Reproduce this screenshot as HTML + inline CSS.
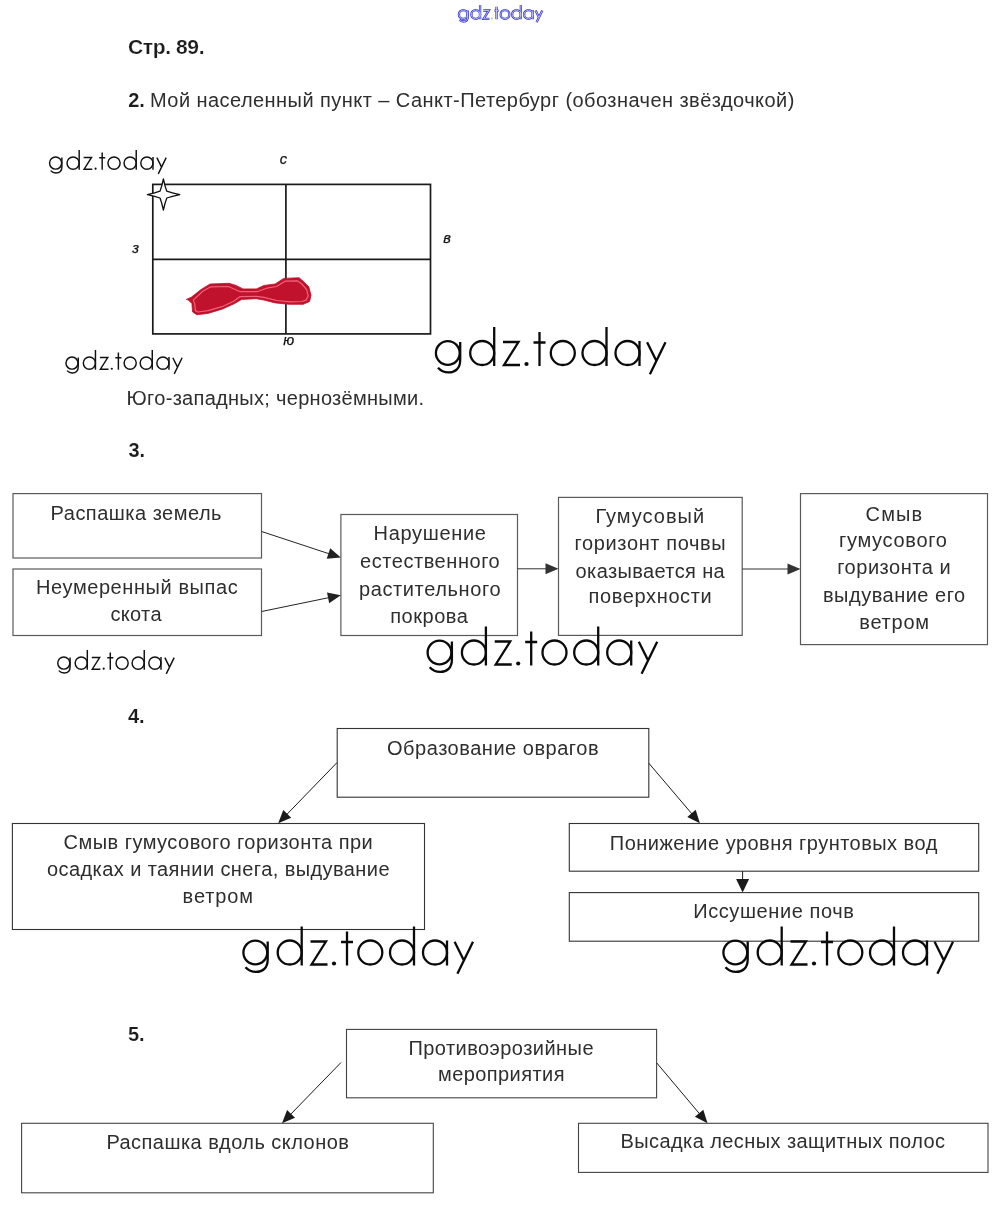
<!DOCTYPE html>
<html><head><meta charset="utf-8"><title>Стр. 89</title>
<style>html,body{margin:0;padding:0;background:#fff;width:1000px;height:1208px;overflow:hidden;position:relative}</style>
</head><body>
<svg width="1000" height="1208" viewBox="0 0 1000 1208" style="position:absolute;left:0;top:0;will-change:transform" font-family='"Liberation Sans", sans-serif'>
<defs><g id="wm" fill="none" stroke-linecap="butt"><circle cx="12.8" cy="-13" r="11.9"/><path d="M25.2,-24 V-6 C25.2,2.5 20.3,6.4 13.5,6.4 C9.5,6.4 5.5,4.6 3,1.8"/><circle cx="47.2" cy="-13" r="12"/><path d="M59.2,-39 V0"/><path d="M68,-24 H83.5 L69,-1 H85"/><circle cx="91.5" cy="-2" r="2.1" fill="currentColor" stroke="none"/><path d="M104.5,-34 V0 M98.5,-23.5 H110.5"/><circle cx="127.8" cy="-13" r="12"/><circle cx="159.5" cy="-13" r="12"/><path d="M171.5,-39 V0"/><circle cx="192.5" cy="-13" r="12"/><path d="M204.5,-25 V0"/><path d="M212.1,-23.7 L221.2,-5.6 M230.5,-23.7 L214.9,8.3"/></g></defs>
<use href="#wm" transform="translate(458.6,19.2) scale(0.363)" stroke="#3434d0" color="#3434d0" stroke-width="6.34"/>
<use href="#wm" transform="translate(458.6,19.2) scale(0.363)" stroke="#dcdcfa" color="#dcdcfa" stroke-width="2.20"/>
<text x="128.0" y="54.0" font-size="21" font-weight="bold" fill="#1c1c1c" stroke="#fff" stroke-width="0.2" textLength="76.5" lengthAdjust="spacing">Стр. 89.</text>
<text x="128.2" y="107.2" font-size="20" font-weight="bold" fill="#1c1c1c" stroke="#fff" stroke-width="0.12">2.</text>
<text x="150.0" y="107.2" font-size="20" fill="#2e2e2e" textLength="644.3" lengthAdjust="spacing">Мой населенный пункт – Санкт-Петербург (обозначен звёздочкой)</text>
<use href="#wm" transform="translate(49.1,169.7) scale(0.508)" stroke="#111" color="#111" stroke-width="2.85"/>
<g stroke="#1a1a1a" stroke-width="1.7" fill="none"><rect x="152.8" y="184.4" width="277.7" height="149.5"/><line x1="152.8" y1="259.4" x2="430.5" y2="259.4"/><line x1="285.9" y1="184.4" x2="285.9" y2="333.9"/></g>
<polygon points="186.3,299.4 191.2,297.3 201.0,289.6 210.1,284.0 229.0,283.3 236.0,285.4 243.0,288.9 256.3,288.9 264.0,285.4 275.2,284.0 283.6,278.4 299.0,277.7 303.2,281.2 308.8,286.8 311.0,295.2 309.6,301.5 303.2,304.3 289.2,304.3 275.2,302.9 264.0,300.1 256.3,298.7 241.6,299.4 234.6,303.6 222.0,309.2 208.0,313.4 196.8,314.8 192.6,312.0 191.9,303.6 188.4,300.1" fill="#c0122c" stroke="#c0122c" stroke-width="0.8" stroke-linejoin="round"/>
<polygon points="193.3,300.1 203.1,291.0 210.8,286.8 228.3,286.5 240.2,291.7 257.0,291.7 266.8,288.2 276.6,286.5 285.0,281.2 297.6,280.9 301.8,284.0 306.7,289.6 308.2,295.9 306.0,300.1 301.8,301.5 290.6,301.9 276.6,300.5 264.0,297.3 256.3,296.3 240.2,296.6 233.2,301.5 222.0,306.7 208.0,310.6 198.2,312.0 195.4,310.6 194.7,303.6" fill="none" stroke="#f0627a" stroke-width="1.2" stroke-linejoin="round"/>
<path d="M163.4,179 Q165.07,186.85 166.80,191.20 Q171.46,192.93 179.80,194.60 Q171.46,196.27 166.80,198.00 Q165.07,202.27 163.40,210.00 Q161.73,202.27 160.00,198.00 Q155.49,196.27 147.40,194.60 Q155.49,192.93 160.00,191.20 Q161.73,186.85 163.40,179.00 Z" fill="#fff" stroke="#111" stroke-width="1.3" stroke-linejoin="round"/>
<text x="279.7" y="163.9" font-size="14.6" font-style="italic" fill="#111" stroke="#111" stroke-width="0.25">с</text>
<text x="132.3" y="253.2" font-size="14.6" font-style="italic" fill="#111" stroke="#111" stroke-width="0.25">з</text>
<text x="443.3" y="243.2" font-size="14.6" font-style="italic" fill="#111" stroke="#111" stroke-width="0.25">в</text>
<text x="283.3" y="345.0" font-size="14.6" font-style="italic" fill="#111" stroke="#111" stroke-width="0.25">ю</text>
<use href="#wm" transform="translate(65.5,369.7) scale(0.506)" stroke="#111" color="#111" stroke-width="2.87"/>
<use href="#wm" transform="translate(435.0,366.0) scale(1.0)" stroke="#0a0a0a" color="#0a0a0a" stroke-width="2.30"/>
<text x="126.6" y="404.8" font-size="20" fill="#2e2e2e" textLength="297.5" lengthAdjust="spacing">Юго-западных; чернозёмными.</text>
<text x="128.4" y="456.8" font-size="20" font-weight="bold" fill="#1c1c1c" stroke="#fff" stroke-width="0.12">3.</text>
<rect x="13.0" y="493.6" width="248.5" height="64.4" fill="none" stroke="#5a5a5a" stroke-width="1.2"/>
<text x="50.6" y="520.4" font-size="20" fill="#2e2e2e" textLength="170.9" lengthAdjust="spacing">Распашка земель</text>
<rect x="13.0" y="569.0" width="248.5" height="66.5" fill="none" stroke="#5a5a5a" stroke-width="1.2"/>
<text x="36.0" y="594.0" font-size="20" fill="#2e2e2e" textLength="201.7" lengthAdjust="spacing">Неумеренный выпас</text>
<text x="110.4" y="621.0" font-size="20" fill="#2e2e2e" textLength="51.1" lengthAdjust="spacing">скота</text>
<rect x="340.9" y="514.5" width="176.6" height="121.0" fill="none" stroke="#5a5a5a" stroke-width="1.2"/>
<text x="373.6" y="539.8" font-size="20" fill="#2e2e2e" textLength="112.3" lengthAdjust="spacing">Нарушение</text>
<text x="360.0" y="568.0" font-size="20" fill="#2e2e2e" textLength="139.7" lengthAdjust="spacing">естественного</text>
<text x="359.0" y="595.5" font-size="20" fill="#2e2e2e" textLength="141.5" lengthAdjust="spacing">растительного</text>
<text x="390.2" y="622.5" font-size="20" fill="#2e2e2e" textLength="77.7" lengthAdjust="spacing">покрова</text>
<rect x="558.5" y="497.4" width="183.7" height="138.0" fill="none" stroke="#5a5a5a" stroke-width="1.2"/>
<text x="595.6" y="523.4" font-size="20" fill="#2e2e2e" textLength="108.5" lengthAdjust="spacing">Гумусовый</text>
<text x="574.6" y="550.0" font-size="20" fill="#2e2e2e" textLength="151.1" lengthAdjust="spacing">горизонт почвы</text>
<text x="575.6" y="578.0" font-size="20" fill="#2e2e2e" textLength="149.1" lengthAdjust="spacing">оказывается на</text>
<text x="588.6" y="603.2" font-size="20" fill="#2e2e2e" textLength="123.1" lengthAdjust="spacing">поверхности</text>
<rect x="800.5" y="493.6" width="187.0" height="151.0" fill="none" stroke="#5a5a5a" stroke-width="1.2"/>
<text x="865.6" y="520.7" font-size="20" fill="#2e2e2e" textLength="56.5" lengthAdjust="spacing">Смыв</text>
<text x="839.0" y="547.1" font-size="20" fill="#2e2e2e" textLength="107.9" lengthAdjust="spacing">гумусового</text>
<text x="837.2" y="574.2" font-size="20" fill="#2e2e2e" textLength="113.5" lengthAdjust="spacing">горизонта и</text>
<text x="823.0" y="602.1" font-size="20" fill="#2e2e2e" textLength="142.1" lengthAdjust="spacing">выдувание его</text>
<text x="859.2" y="628.5" font-size="20" fill="#2e2e2e" textLength="69.9" lengthAdjust="spacing">ветром</text>
<line x1="261.6" y1="531.5" x2="330.4" y2="554.2" stroke="#222" stroke-width="1.0"/>
<polygon points="340.8,557.6 326.7,558.8 330.2,548.3" fill="#222"/>
<line x1="261.6" y1="611.5" x2="330.0" y2="597.4" stroke="#222" stroke-width="1.0"/>
<polygon points="340.8,595.2 329.2,603.2 327.0,592.4" fill="#222"/>
<line x1="517.5" y1="568.8" x2="547.5" y2="568.8" stroke="#333" stroke-width="1.0"/>
<polygon points="558.5,568.8 545.5,574.3 545.5,563.3" fill="#333"/>
<line x1="742.2" y1="569.0" x2="789.5" y2="569.0" stroke="#333" stroke-width="1.0"/>
<polygon points="800.5,569.0 787.5,574.5 787.5,563.5" fill="#333"/>
<use href="#wm" transform="translate(57.3,669.7) scale(0.507)" stroke="#111" color="#111" stroke-width="2.86"/>
<use href="#wm" transform="translate(426.7,665.5) scale(1.0)" stroke="#0a0a0a" color="#0a0a0a" stroke-width="2.30"/>
<text x="128.0" y="722.5" font-size="20" font-weight="bold" fill="#1c1c1c" stroke="#fff" stroke-width="0.12">4.</text>
<rect x="337.2" y="728.5" width="311.6" height="68.7" fill="none" stroke="#333" stroke-width="1.1"/>
<text x="387.0" y="754.5" font-size="20" fill="#2e2e2e" textLength="211.5" lengthAdjust="spacing">Образование оврагов</text>
<rect x="12.4" y="823.5" width="412.1" height="106.0" fill="none" stroke="#333" stroke-width="1.1"/>
<text x="63.6" y="849.2" font-size="20" fill="#2e2e2e" textLength="309.1" lengthAdjust="spacing">Смыв гумусового горизонта при</text>
<text x="47.0" y="876.0" font-size="20" fill="#2e2e2e" textLength="342.5" lengthAdjust="spacing">осадках и таянии снега, выдувание</text>
<text x="182.6" y="903.0" font-size="20" fill="#2e2e2e" textLength="70.5" lengthAdjust="spacing">ветром</text>
<rect x="569.3" y="823.5" width="409.4" height="47.7" fill="none" stroke="#333" stroke-width="1.1"/>
<text x="609.8" y="849.6" font-size="20" fill="#2e2e2e" textLength="327.5" lengthAdjust="spacing">Понижение уровня грунтовых вод</text>
<rect x="569.3" y="892.6" width="409.4" height="48.6" fill="none" stroke="#333" stroke-width="1.1"/>
<text x="693.2" y="917.8" font-size="20" fill="#2e2e2e" textLength="160.7" lengthAdjust="spacing">Иссушение почв</text>
<line x1="337.0" y1="762.6" x2="285.9" y2="815.4" stroke="#1a1a1a" stroke-width="1.0"/>
<polygon points="278.2,823.3 283.3,810.1 291.2,817.8" fill="#1a1a1a"/>
<line x1="648.8" y1="763.2" x2="692.8" y2="814.9" stroke="#1a1a1a" stroke-width="1.0"/>
<polygon points="699.9,823.3 687.3,817.0 695.7,809.8" fill="#1a1a1a"/>
<line x1="742.6" y1="871.2" x2="742.6" y2="880.9" stroke="#1a1a1a" stroke-width="1.0"/>
<polygon points="742.6,892.4 736.1,878.9 749.1,878.9" fill="#1a1a1a"/>
<use href="#wm" transform="translate(242.5,965.5) scale(1.0)" stroke="#0a0a0a" color="#0a0a0a" stroke-width="2.30"/>
<use href="#wm" transform="translate(722.5,965.5) scale(1.0)" stroke="#0a0a0a" color="#0a0a0a" stroke-width="2.30"/>
<text x="128.0" y="1041.1" font-size="20" font-weight="bold" fill="#1c1c1c" stroke="#fff" stroke-width="0.12">5.</text>
<rect x="346.5" y="1029.4" width="310.1" height="68.4" fill="none" stroke="#444" stroke-width="1.1"/>
<text x="408.4" y="1055.0" font-size="20" fill="#2e2e2e" textLength="185.1" lengthAdjust="spacing">Противоэрозийные</text>
<text x="438.0" y="1081.0" font-size="20" fill="#2e2e2e" textLength="126.5" lengthAdjust="spacing">мероприятия</text>
<rect x="21.6" y="1123.3" width="411.7" height="69.5" fill="none" stroke="#444" stroke-width="1.1"/>
<text x="106.4" y="1149.2" font-size="20" fill="#2e2e2e" textLength="242.5" lengthAdjust="spacing">Распашка вдоль склонов</text>
<rect x="578.5" y="1123.3" width="409.5" height="49.1" fill="none" stroke="#444" stroke-width="1.1"/>
<text x="620.4" y="1148.4" font-size="20" fill="#2e2e2e" textLength="324.7" lengthAdjust="spacing">Высадка лесных защитных полос</text>
<line x1="341.0" y1="1062.5" x2="289.7" y2="1115.3" stroke="#1a1a1a" stroke-width="1.0"/>
<polygon points="282.0,1123.2 287.1,1110.0 295.0,1117.7" fill="#1a1a1a"/>
<line x1="656.8" y1="1063.0" x2="700.4" y2="1114.8" stroke="#1a1a1a" stroke-width="1.0"/>
<polygon points="707.5,1123.2 694.9,1116.8 703.3,1109.7" fill="#1a1a1a"/>
</svg>
</body></html>
